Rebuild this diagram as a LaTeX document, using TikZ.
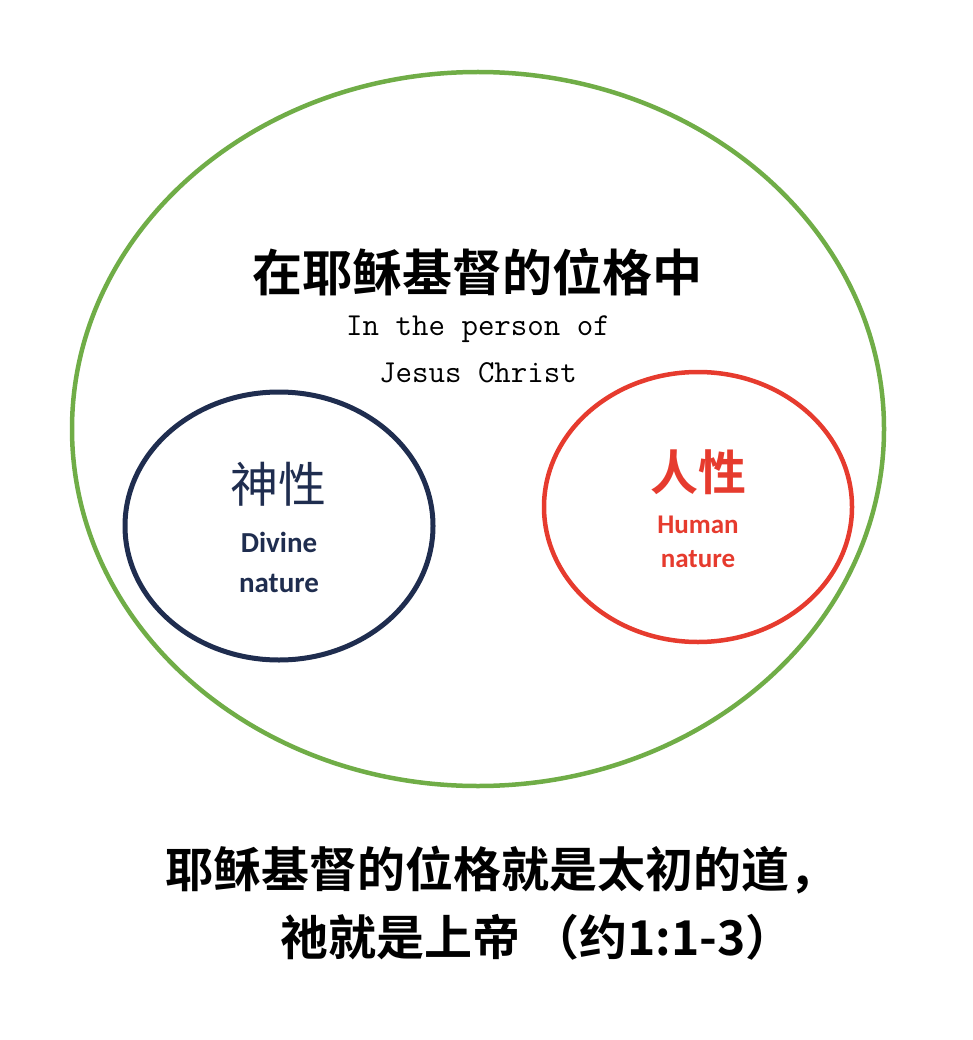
\documentclass[tikz,border=0pt]{standalone}
\usepackage{fontspec}
\usetikzlibrary{shapes.geometric}
\setmainfont{Liberation Sans}
\newfontfamily\cjk{Noto Sans CJK SC}
\newfontfamily\cjkb{Noto Sans CJK SC Bold}
\newfontfamily\monof{Latin Modern Mono}
\newfontfamily\calib{Carlito}
\definecolor{ringgreen}{HTML}{70AD47}
\definecolor{navyc}{HTML}{1F2D4F}
\definecolor{redc}{HTML}{E63B2E}
\begin{document}
\begin{tikzpicture}[x=1pt,y=-1pt,
  ring/.style={draw,ellipse,inner sep=0pt,outer sep=0pt},
  txt/.style={inner sep=0pt,anchor=center}]
\useasboundingbox (0,0) rectangle (972,1040);
\node[ring,draw=ringgreen,line width=4.5pt,minimum width=812pt,minimum height=714pt] (outer) at (478,429) {};
\node[ring,draw=navyc,line width=5pt,minimum width=308pt,minimum height=268pt] (divine) at (279,526) {};
\node[ring,draw=redc,line width=4.5pt,minimum width=308pt,minimum height=270pt] (human) at (698,507) {};
\node[txt,font=\cjkb\fontsize{50}{52}\selectfont] (title) at (477,272) {在耶稣基督的位格中};
\node[txt,font=\monof\fontsize{32}{34}\selectfont] (en1) at (478,329) {In the person of};
\node[txt,font=\monof\fontsize{32}{34}\selectfont] (en2) at (478,373) {Jesus Christ};
\node[txt,navyc,font=\cjk\fontsize{48}{50}\selectfont] (dv) at (278,484) {神性};
\node[txt,navyc,font=\calib\bfseries\fontsize{29}{31}\selectfont] (dv1) at (279,542) {Divine};
\node[txt,navyc,font=\calib\bfseries\fontsize{29}{31}\selectfont] (dv2) at (279,583) {nature};
\node[txt,redc,font=\cjkb\fontsize{48}{50}\selectfont] (hm) at (698,472) {人性};
\node[txt,redc,font=\calib\bfseries\fontsize{27}{29}\selectfont] (hm1) at (698,525) {Human};
\node[txt,redc,font=\calib\bfseries\fontsize{27}{29}\selectfont] (hm2) at (698,559) {nature};
\node[inner sep=0pt,anchor=west,font=\cjkb\fontsize{48}{50}\selectfont] (b1) at (165,870) {耶稣基督的位格就是太初的道，};
\node[inner sep=0pt,anchor=west,font=\cjkb\fontsize{48}{50}\selectfont] (b2) at (280,937) {祂就是上帝 （约1:1-3）};
\end{tikzpicture}
\end{document}
